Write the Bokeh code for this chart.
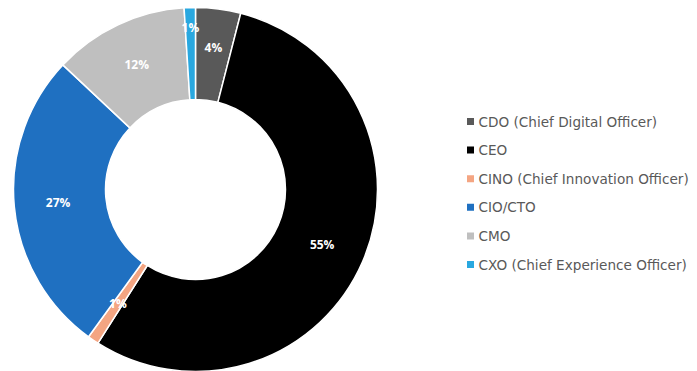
import math
from bokeh.plotting import figure
from bokeh.models import ColumnDataSource
from bokeh.core.properties import value
from bokeh.embed import file_html
from bokeh.resources import INLINE

categories = ["CDO (Chief Digital Officer)", "CEO", "CINO (Chief Innovation Officer)",
              "CIO/CTO", "CMO", "CXO (Chief Experience Officer)"]
shares = [4, 55, 1, 27, 12, 1]
labels = ["4%", "55%", "1%", "27%", "12%", "1%"]
colors = ["#595959", "#000000", "#f4a582", "#1f70c1", "#bfbfbf", "#29a8e0"]

W, H = 697, 371
cx, cy = 195, 189
R_OUT, R_IN = 182, 90

total = float(sum(shares))
starts, ends, lx, ly = [], [], [], []
cum = 0.0
label_r = {0: 143, 5: 162}
for i, s in enumerate(shares):
    a0 = math.pi / 2 - 2 * math.pi * cum / total
    a1 = math.pi / 2 - 2 * math.pi * (cum + s) / total
    starts.append(a0)
    ends.append(a1)
    mid = (a0 + a1) / 2
    r = label_r.get(i, 138)
    lx.append(r * math.cos(mid))
    ly.append(r * math.sin(mid))
    cum += s

src = ColumnDataSource(dict(start=starts, end=ends, color=colors, lx=lx, ly=ly, label=labels))

p = figure(width=W, height=H, output_backend="svg", toolbar_location=None,
           x_range=(-cx, W - cx), y_range=(-(H - cy), cy), min_border=0)
p.axis.visible = False
p.grid.visible = False
p.outline_line_color = None
p.background_fill_color = "white"
p.border_fill_color = "white"

p.annular_wedge(x=0, y=0, inner_radius=R_IN, outer_radius=R_OUT, start_angle="start",
                end_angle="end", direction="clock", fill_color="color",
                line_color="white", line_width=1.5, source=src)

p.text(x="lx", y="ly", text="label", source=src, text_color="white",
       text_font=value("Open Sans"), text_font_style="bold", text_font_size="12px",
       text_align="center", text_baseline="middle")

# legend
leg_x0 = 470 - cx
leg_top = 189 - 121
leg_step = 28.6
lgx = [leg_x0] * len(categories)
lgy = [leg_top - i * leg_step for i in range(len(categories))]
lsrc = ColumnDataSource(dict(x=lgx, y=lgy, tx=[v + 8 for v in lgx], name=categories, color=colors))
p.scatter(x="x", y="y", marker="square", size=7, fill_color="color", line_color=None, source=lsrc)
p.text(x="tx", y="y", text="name", source=lsrc, text_color="#595959",
       text_font=value("DejaVu Sans"), text_font_size="13.6px", text_baseline="middle")

open("out.html", "w").write(file_html(p, INLINE))
